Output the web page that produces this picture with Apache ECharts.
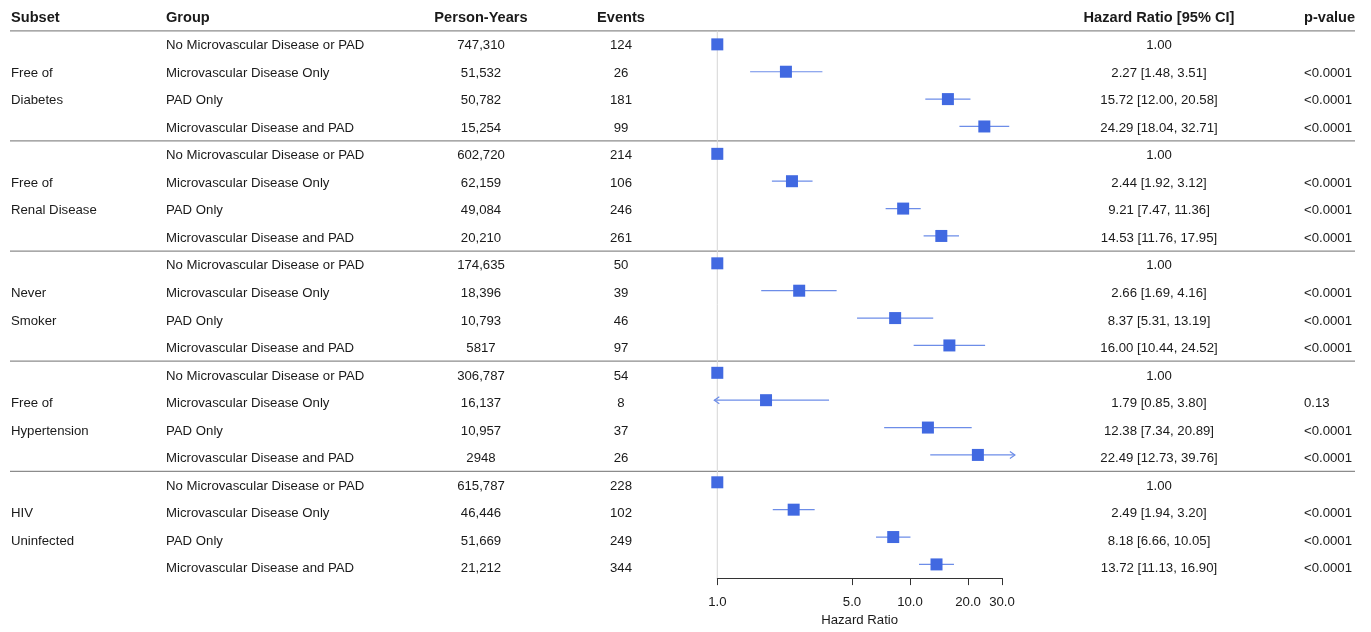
<!DOCTYPE html>
<html>
<head>
<meta charset="utf-8">
<title>Hazard ratio forest plot</title>
<script src="https://cdn.jsdelivr.net/npm/echarts@6/dist/echarts.min.js"></script>
<style>
  html, body { margin: 0; padding: 0; background: #fff; }
  #chart { width: 1371px; height: 632px; }
</style>
</head>
<body>
<div id="chart"></div>
<script>
// ---- data ----
const headers = ['Subset', 'Group', 'Person-Years', 'Events', 'Hazard Ratio [95% CI]', 'p-value']
const subsets = [
  ['Free of', 'Diabetes'],
  ['Free of', 'Renal Disease'],
  ['Never', 'Smoker'],
  ['Free of', 'Hypertension'],
  ['HIV', 'Uninfected']
]
const groups = [
  'No Microvascular Disease or PAD',
  'Microvascular Disease Only',
  'PAD Only',
  'Microvascular Disease and PAD'
]
const personYears = [
  '747,310', '51,532', '50,782', '15,254',
  '602,720', '62,159', '49,084', '20,210',
  '174,635', '18,396', '10,793', '5817',
  '306,787', '16,137', '10,957', '2948',
  '615,787', '46,446', '51,669', '21,212'
]
const events = [
  124, 26, 181, 99,
  214, 106, 246, 261,
  50, 39, 46, 97,
  54, 8, 37, 26,
  228, 102, 249, 344
]
const hazardRatio = [
  1.00, 2.27, 15.72, 24.29,
  1.00, 2.44, 9.21, 14.53,
  1.00, 2.66, 8.37, 16.00,
  1.00, 1.79, 12.38, 22.49,
  1.00, 2.49, 8.18, 13.72
]
const ciLower = [
  null, 1.48, 12.00, 18.04,
  null, 1.92, 7.47, 11.76,
  null, 1.69, 5.31, 10.44,
  null, 0.85, 7.34, 12.73,
  null, 1.94, 6.66, 11.13
]
const ciUpper = [
  null, 3.51, 20.58, 32.71,
  null, 3.12, 11.36, 17.95,
  null, 4.16, 13.19, 24.52,
  null, 3.80, 20.89, 39.76,
  null, 3.20, 10.05, 16.90
]
const pValues = [
  '', '<0.0001', '<0.0001', '<0.0001',
  '', '<0.0001', '<0.0001', '<0.0001',
  '', '<0.0001', '<0.0001', '<0.0001',
  '', '0.13', '<0.0001', '<0.0001',
  '', '<0.0001', '<0.0001', '<0.0001'
]
const axisTicks = [1, 5, 10, 20, 30]
// CIs outside this window get an arrow
const clipRange = [0.965, 35]

// ---- look ----
const FONT = '"Liberation Sans", Arial, Helvetica, sans-serif'
const TEXT = '#1a1a1a'
const BOX = '#4169E1'
const CI = '#6d8de8'
const GRID_TOP = 3.3
const GRID_H = 578.1

// ---- derived text columns ----
const subsetCells = []
subsets.forEach(s => { subsetCells.push('', s[0], s[1], '') })
const groupCells = []
subsets.forEach(() => { groups.forEach(g => groupCells.push(g)) })
const hrCells = hazardRatio.map((v, i) =>
  ciLower[i] == null ? v.toFixed(2)
    : v.toFixed(2) + ' [' + ciLower[i].toFixed(2) + ', ' + ciUpper[i].toFixed(2) + ']')
const rowNames = ['header'].concat(hazardRatio.map((v, i) => 'r' + (i + 1)))

// columns: grid placement + anchor inside the grid
const columns = [
  { left: 11, width: 140, anchor: 0, align: 'left', cells: subsetCells },
  { left: 166, width: 240, anchor: 0, align: 'left', cells: groupCells },
  { left: 431, width: 100, anchor: 0.5, align: 'center', cells: personYears },
  { left: 571, width: 100, anchor: 0.5, align: 'center', cells: events.map(String) },
  { left: 1079, width: 160, anchor: 0.5, align: 'center', cells: hrCells },
  { left: 1304, width: 60, anchor: 0, align: 'left', cells: pValues }
]

const grids = []
const xAxes = []
const yAxes = []
const series = []

function addGrid(left, width) {
  grids.push({ left: left, width: width, top: GRID_TOP, height: GRID_H, containLabel: false })
  return grids.length - 1
}
function hiddenY(idx) {
  yAxes.push({ gridIndex: idx, type: 'category', data: rowNames, inverse: true, show: false })
}

columns.forEach((col, c) => {
  const idx = addGrid(col.left, col.width)
  xAxes.push({ gridIndex: idx, type: 'value', min: 0, max: 1, show: false })
  hiddenY(idx)
  const texts = [headers[c]].concat(col.cells)
  series.push({
    type: 'custom',
    name: headers[c],
    xAxisIndex: idx,
    yAxisIndex: idx,
    silent: true,
    data: texts.map((t, i) => [col.anchor, i]),
    renderItem: function (params, api) {
      const i = params.dataIndex
      const p = api.coord([api.value(0), api.value(1)])
      return {
        type: 'text',
        x: p[0],
        y: p[1] + 1,
        style: {
          text: texts[i],
          align: col.align,
          verticalAlign: 'middle',
          fill: TEXT,
          fontFamily: FONT,
          fontSize: i === 0 ? 14.6 : 13.2,
          fontWeight: i === 0 ? 'bold' : 'normal'
        }
      }
    }
  })
})

// forest panel, x is log10(HR)
const forestIdx = addGrid(717.3, 284.7)
const tickLogs = axisTicks.map(v => Math.log10(v))
xAxes.push({
  gridIndex: forestIdx,
  type: 'value',
  position: 'bottom',
  min: 0,
  max: Math.log10(30),
  axisLine: { show: true, lineStyle: { color: '#333', width: 1 } },
  axisTick: { show: true, length: 7, customValues: tickLogs, lineStyle: { color: '#333' } },
  axisLabel: {
    customValues: tickLogs,
    formatter: v => Math.pow(10, v).toFixed(1),
    margin: 18,
    color: TEXT,
    fontFamily: FONT,
    fontSize: 13.2
  },
  splitLine: { show: false },
  name: 'Hazard Ratio',
  nameLocation: 'middle',
  nameGap: 33,
  nameTextStyle: { color: TEXT, fontFamily: FONT, fontSize: 13.2 }
})
hiddenY(forestIdx)

// reference line at HR = 1
series.push({
  type: 'custom',
  xAxisIndex: forestIdx,
  yAxisIndex: forestIdx,
  silent: true,
  z: 1,
  data: [[0, 1]],
  renderItem: function (params, api) {
    const p = api.coord([api.value(0), api.value(1)])
    const band = api.size([0, 1])[1]
    const cs = params.coordSys
    return {
      type: 'line',
      shape: { x1: p[0], y1: p[1] - band / 2, x2: p[0], y2: cs.y + cs.height },
      style: { stroke: '#d6d6d6', lineWidth: 1 }
    }
  }
})

function arrowHead(x, y, dir) {
  return {
    type: 'polyline',
    shape: { points: [[x - dir * 5, y - 3.5], [x, y], [x - dir * 5, y + 3.5]] },
    style: { stroke: CI, lineWidth: 1.2, fill: null }
  }
}

series.push({
  type: 'custom',
  name: 'Hazard Ratio',
  xAxisIndex: forestIdx,
  yAxisIndex: forestIdx,
  silent: true,
  clip: false,
  z: 3,
  data: hazardRatio.map((v, i) => [Math.log10(v), i + 1]),
  renderItem: function (params, api) {
    const i = params.dataIndex
    const row = api.value(1)
    const c = api.coord([api.value(0), row])
    const kids = []
    if (ciLower[i] != null) {
      const lo = Math.max(ciLower[i], clipRange[0])
      const hi = Math.min(ciUpper[i], clipRange[1])
      const x0 = api.coord([Math.log10(lo), row])[0]
      const x1 = api.coord([Math.log10(hi), row])[0]
      kids.push({
        type: 'line',
        shape: { x1: x0, y1: c[1], x2: x1, y2: c[1] },
        style: { stroke: CI, lineWidth: 1.2 }
      })
      if (ciLower[i] < clipRange[0]) kids.push(arrowHead(x0, c[1], -1))
      if (ciUpper[i] > clipRange[1]) kids.push(arrowHead(x1, c[1], 1))
    }
    kids.push({
      type: 'rect',
      shape: { x: c[0] - 6, y: c[1] - 6, width: 12, height: 12 },
      style: { fill: BOX }
    })
    return { type: 'group', children: kids }
  }
})

// horizontal rules: under the header and between subsets
const ruleIdx = addGrid(10, 1345)
xAxes.push({ gridIndex: ruleIdx, type: 'value', min: 0, max: 1, show: false })
hiddenY(ruleIdx)
series.push({
  type: 'custom',
  xAxisIndex: ruleIdx,
  yAxisIndex: ruleIdx,
  silent: true,
  z: 0,
  data: subsets.map((s, k) => [0, 1 + k * groups.length]),
  renderItem: function (params, api) {
    const p = api.coord([api.value(0), api.value(1)])
    const band = api.size([0, 1])[1]
    const cs = params.coordSys
    const y = p[1] - band / 2
    return {
      type: 'line',
      shape: { x1: cs.x, y1: y, x2: cs.x + cs.width, y2: y },
      style: { stroke: '#8c8c8c', lineWidth: 1.2 }
    }
  }
})

const chart = echarts.init(document.getElementById('chart'))
chart.setOption({
  backgroundColor: '#fff',
  animation: false,
  grid: grids,
  xAxis: xAxes,
  yAxis: yAxes,
  series: series
})
</script>
</body>
</html>
